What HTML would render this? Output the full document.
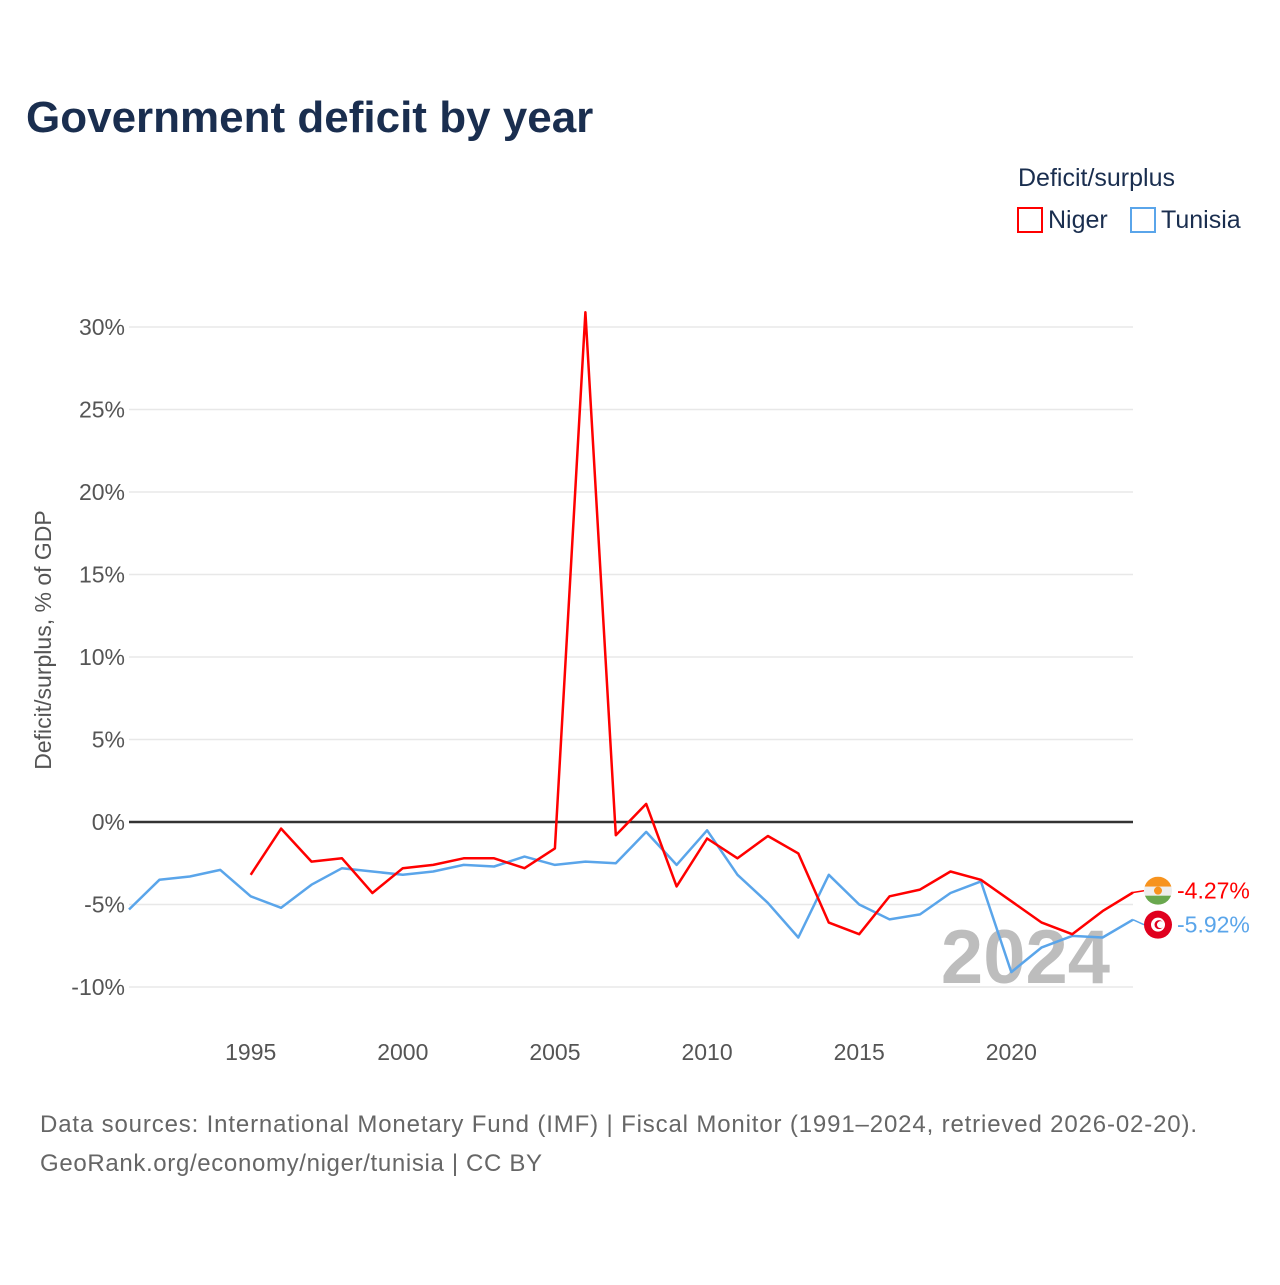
<!DOCTYPE html>
<html><head><meta charset="utf-8"><style>
body{margin:0;background:#fff;font-family:"Liberation Sans",sans-serif}
svg text{font-family:"Liberation Sans",sans-serif}
</style></head><body>
<svg id="c" width="1280" height="1280" viewBox="0 0 1280 1280">
<rect width="1280" height="1280" fill="#fff"/>
<text x="26" y="132" font-size="44" font-weight="bold" fill="#1a2e4f">Government deficit by year</text>
<text x="1018" y="186" font-size="25" fill="#1a2e4f">Deficit/surplus</text>
<g><rect x="1018" y="208" width="24" height="24" fill="none" stroke="#ff0000" stroke-width="2"/><text x="1048" y="228" font-size="25" fill="#1a2e4f">Niger</text></g>
<g><rect x="1131" y="208" width="24" height="24" fill="none" stroke="#5aa5ea" stroke-width="2"/><text x="1161" y="228" font-size="25" fill="#1a2e4f">Tunisia</text></g>
<text transform="translate(51,640) rotate(-90)" text-anchor="middle" font-size="23" fill="#555">Deficit/surplus, % of GDP</text>
<g id="grid"></g>
<text x="1110" y="983" text-anchor="end" font-size="76" font-weight="bold" fill="#bdbdbd">2024</text>
<g id="series"></g>
<g id="labels"></g>
<text x="40" y="1132" font-size="24" fill="#666" textLength="1157" lengthAdjust="spacing">Data sources: International Monetary Fund (IMF) | Fiscal Monitor (1991–2024, retrieved 2026-02-20).</text>
<text x="40" y="1171" font-size="24" fill="#666" textLength="502" lengthAdjust="spacing">GeoRank.org/economy/niger/tunisia | CC BY</text>
</svg>
<script>
const years=[1991,1992,1993,1994,1995,1996,1997,1998,1999,2000,2001,2002,2003,2004,2005,2006,2007,2008,2009,2010,2011,2012,2013,2014,2015,2016,2017,2018,2019,2020,2021,2022,2023,2024];
const tunisia=[-5.3,-3.5,-3.3,-2.9,-4.5,-5.2,-3.8,-2.8,-3.0,-3.2,-3.0,-2.6,-2.7,-2.1,-2.6,-2.4,-2.5,-0.6,-2.6,-0.5,-3.2,-4.9,-7.0,-3.2,-5.0,-5.9,-5.6,-4.3,-3.6,-9.1,-7.6,-6.9,-7.0,-5.92];
const niger=[null,null,null,null,-3.2,-0.4,-2.4,-2.2,-4.3,-2.8,-2.6,-2.2,-2.2,-2.8,-1.6,30.9,-0.8,1.1,-3.9,-1.0,-2.2,-0.85,-1.9,-6.1,-6.8,-4.5,-4.1,-3.0,-3.5,-4.8,-6.1,-6.8,-5.4,-4.27];
const yTicks=[-10,-5,0,5,10,15,20,25,30];
const xTicks=[1995,2000,2005,2010,2015,2020];
const X=y=>129+(y-1991)*(1133-129)/33;
const Y=v=>822-v*16.5;
const NS='http://www.w3.org/2000/svg';
function mk(t,a,p){const e=document.createElementNS(NS,t);for(const k in a)e.setAttribute(k,a[k]);p.appendChild(e);return e;}
const g=document.getElementById('grid');
yTicks.forEach(v=>{
 const l=mk('line',{x1:129,x2:1133,y1:Y(v),y2:Y(v),stroke:v===0?'#333':'#e8e8e8','stroke-width':v===0?2.5:1.5},g);
 
 
 const t=mk('text',{x:125,y:Y(v)+8,'text-anchor':'end','font-size':23,fill:'#555'},g);
 t.textContent=v+'%';
 
 
});
xTicks.forEach(y=>{
 const t=mk('text',{x:X(y),y:1060,'text-anchor':'middle','font-size':23,fill:'#555'},g);
 t.textContent=y;
 
 
});
const s=document.getElementById('series');
function path(vals){let d='',pen=false;vals.forEach((v,i)=>{if(v===null){pen=false;return;}d+=(pen?'L':'M')+X(years[i]).toFixed(1)+','+Y(v).toFixed(1);pen=true;});return d;}
const pt=mk('path',{d:path(tunisia),fill:'none',stroke:'#5aa5ea','stroke-width':2.5,'stroke-linejoin':'round'},s);


const pn=mk('path',{d:path(niger),fill:'none',stroke:'#ff0000','stroke-width':2.5,'stroke-linejoin':'round'},s);


const L=document.getElementById('labels');
const nv=niger[niger.length-1],tv=tunisia[tunisia.length-1];
const ty=Y(tv)+5, ny=Math.min(Y(nv),ty-34);
mk('line',{x1:1133,x2:1144,y1:Y(nv),y2:ny,stroke:'#ff0000','stroke-width':1.5},L);
mk('line',{x1:1133,x2:1144,y1:Y(tv),y2:ty,stroke:'#5aa5ea','stroke-width':1.5},L);
const fn=mk('g',{},L);


const cp=mk('clipPath',{id:'cn'},fn);
mk('circle',{cx:1158,cy:ny,r:14},cp);
mk('rect',{x:1144,y:ny-14,width:28,height:10,fill:'#f7931e','clip-path':'url(#cn)'},fn);
mk('rect',{x:1144,y:ny-4,width:28,height:9,fill:'#eee','clip-path':'url(#cn)'},fn);
mk('rect',{x:1144,y:ny+5,width:28,height:10,fill:'#6aa84f','clip-path':'url(#cn)'},fn);
mk('circle',{cx:1158,cy:ny,r:4,fill:'#f7931e'},fn);
const ft=mk('g',{},L);


mk('circle',{cx:1158,cy:ty,r:14,fill:'#e0001e'},ft);
mk('circle',{cx:1158,cy:ty,r:7,fill:'#fff'},ft);
mk('circle',{cx:1159,cy:ty,r:4.5,fill:'#e0001e'},ft);
mk('circle',{cx:1160.5,cy:ty,r:3.5,fill:'#fff'},ft);
const ln=mk('text',{x:1177,y:ny+8,'font-size':23,fill:'#ff0000'},L);
ln.textContent=nv.toFixed(2)+'%';


const lt=mk('text',{x:1177,y:ty+8,'font-size':23,fill:'#5aa5ea'},L);
lt.textContent=tv.toFixed(2)+'%';


</script>
</body></html>
